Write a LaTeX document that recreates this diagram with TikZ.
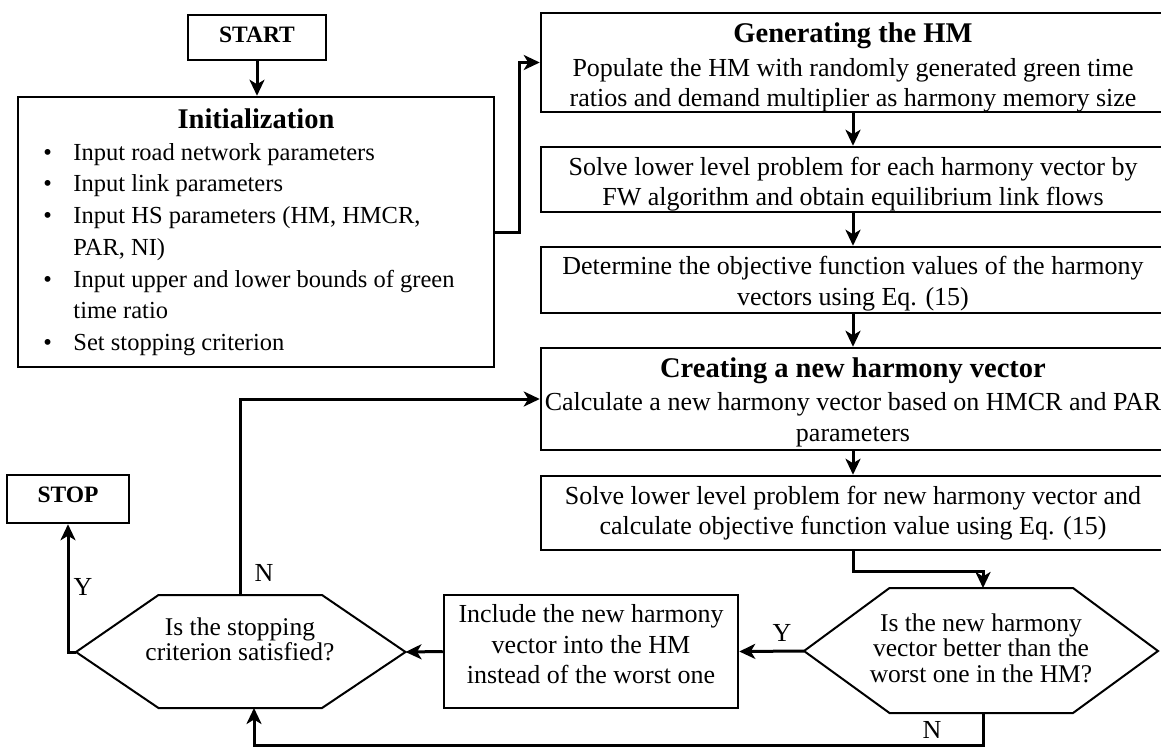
\documentclass[tikz,border=0pt]{standalone}
\usepackage{fontspec}
\setmainfont{Liberation Serif}
\usetikzlibrary{arrows.meta}
\newcommand{\bodyfont}{\fontsize{26}{30.5}\selectfont}
\newcommand{\initfont}{\fontsize{24.5}{31.7}\selectfont}
\newcommand{\hexfont}{\fontsize{25.5}{25.5}\selectfont}
\newcommand{\titfont}{\fontsize{28.5}{31}\selectfont\bfseries}
\newcommand{\termfont}{\fontsize{23.5}{27}\selectfont\bfseries}
\begin{document}
\begin{tikzpicture}[x=1pt,y=-1pt,
 box/.style={draw, line width=2.5pt, inner sep=0pt},
 btxt/.style={align=center, font=\bodyfont, inner sep=0pt},
 ttxt/.style={font=\termfont, inner sep=0pt},
 conn/.style={line width=3pt, -{Stealth[length=16pt,width=15pt,inset=4.5pt]}},
 hexline/.style={line width=2pt, line join=miter},
 lbl/.style={font=\bodyfont, inner sep=0pt},
 qtxt/.style={font=\hexfont, align=center, inner sep=0pt}
]
\useasboundingbox (0,0) rectangle (1161,747);
\clip (0,0) rectangle (1161,747);

% terminals
\node[box, minimum width=138pt, minimum height=45pt] (start) at (257,37.5) {};
\node[ttxt] (startt) at (257,34.5) {START};
\node[box, minimum width=122pt, minimum height=48pt] (stop) at (68,499) {};
\node[ttxt] (stopt) at (68,495) {STOP};

% initialization
\node[box, minimum width=476pt, minimum height=270pt] (init) at (256,232) {};
\node[btxt, font=\initfont] (initt) at (256,234.5)
 {{\titfont Initialization}\\[8pt]
  \begin{tabular}{@{}p{30pt}@{}l@{}}
  \textbullet & Input road network parameters\\
  \textbullet & Input link parameters\\
  \textbullet & Input HS parameters (HM, HMCR,\\
              & PAR, NI)\\
  \textbullet & Input upper and lower bounds of green\\
              & time ratio\\
  \textbullet & Set stopping criterion
  \end{tabular}\hspace*{14pt}};

% right column
\node[box, minimum width=624pt, minimum height=99pt] (gen) at (853,62.5) {};
\node[btxt] (gent) at (853,67.5)
 {{\titfont Generating the HM}\\[3pt]
  Populate the HM with randomly generated green time\\
  ratios and demand multiplier as harmony memory size};
\node[box, minimum width=624pt, minimum height=65pt] (solve1) at (853,179.5) {};
\node[btxt] (solve1t) at (853,184)
 {Solve lower level problem for each harmony vector by\\
  FW algorithm and obtain equilibrium link flows};
\node[box, minimum width=624pt, minimum height=66pt] (det) at (853,280) {};
\node[btxt] (dett) at (853,283.5)
 {Determine the objective function values of the harmony\\
  vectors using Eq. (15)};
\node[box, minimum width=624pt, minimum height=102pt] (create) at (853,399) {};
\node[btxt] (createt) at (853,402)
 {{\titfont Creating a new harmony vector}\\[3pt]
  Calculate a new harmony vector based on HMCR and PAR\\
  parameters};
\node[box, minimum width=624pt, minimum height=74pt] (solve2) at (853,513) {};
\node[btxt] (solve2t) at (853,513)
 {Solve lower level problem for new harmony vector and\\
  calculate objective function value using Eq. (15)};
\node[box, minimum width=294pt, minimum height=113pt] (incl) at (591,651.5) {};
\node[btxt] (inclt) at (591,644.5)
 {Include the new harmony\\
  vector into the HM\\
  instead of the worst one};

% decision hexagons
\coordinate (h1l) at (76,652);
\coordinate (h1r) at (405.5,652);
\coordinate (h1t) at (240,595);
\coordinate (h1b) at (254,708);
\draw[hexline] (h1l) -- (158.5,595) -- (322,595) -- (h1r) -- (322,708) -- (158.5,708) -- cycle;
\node[qtxt] (q1) at (240,639.5) {Is the stopping\\criterion satisfied?};

\coordinate (h2l) at (804,651);
\coordinate (h2r) at (1158,651);
\coordinate (h2t) at (983,588);
\coordinate (h2b) at (983,713);
\draw[hexline] (h2l) -- (889.5,588) -- (1073,588) -- (h2r) -- (1073,713) -- (889.5,713) -- cycle;
\node[qtxt] (q2) at (981,648) {Is the new harmony\\vector better than the\\worst one in the HM?};

% connectors
\draw[conn] (start.south) -- (start.south |- init.north);
\draw[conn] (init.east) -- ++(24.5,0) |- (gen.west);
\draw[conn] (gen.south) -- (solve1.north);
\draw[conn] (solve1.south) -- (det.north);
\draw[conn] (det.south) -- (create.north);
\draw[conn] (create.south) -- (solve2.north);
\draw[conn] (solve2.south) -- ++(0,20) -| (h2t);
\draw[conn] (h2l) -- (incl.east);
\draw[conn] (incl.west) -- (h1r);
\draw[conn] (h1l) -| (stop.south);
\draw[conn] (h1t) |- (create.west);
\draw[conn] (h2b) -- ++(0,32) -| (h1b);

% labels
\node[lbl] (ly1) at (83,587) {Y};
\node[lbl] (ln1) at (264,573) {N};
\node[lbl] (ly2) at (782,633) {Y};
\node[lbl] (ln2) at (932,730) {N};
\end{tikzpicture}
\end{document}
